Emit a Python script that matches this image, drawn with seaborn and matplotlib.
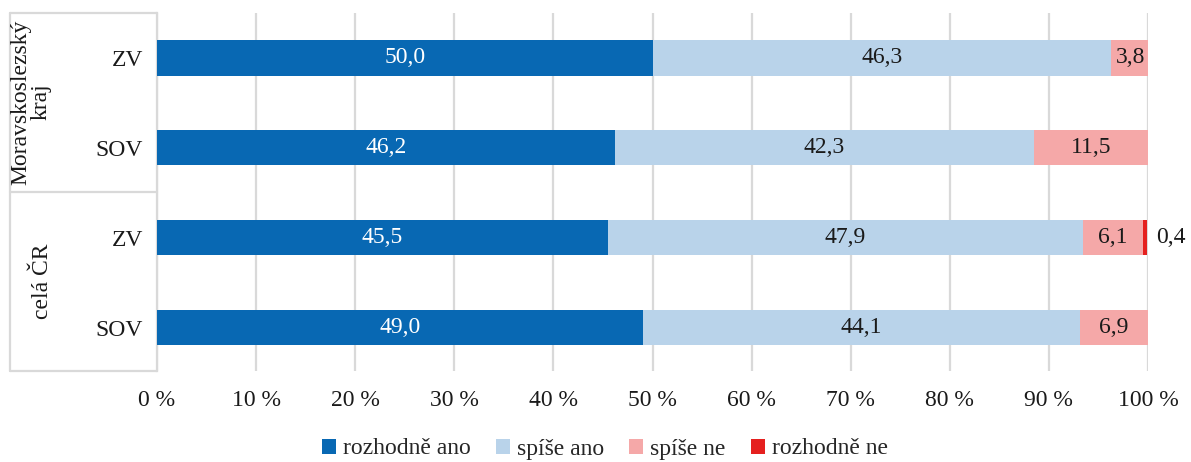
import matplotlib
matplotlib.use("Agg")
import matplotlib.pyplot as plt
import seaborn as sns
import pandas as pd
import numpy as np
from matplotlib.patches import Patch

# Survey answers (%) per group
rows = ["MSK-ZV", "MSK-SOV", "CR-ZV", "CR-SOV"]
row_labels = ["ZV", "SOV", "ZV", "SOV"]
series = ["rozhodně ano", "spíše ano", "spíše ne", "rozhodně ne"]
rozhodne_ano = [50.0, 46.2, 45.5, 49.0]
spise_ano = [46.3, 42.3, 47.9, 44.1]
spise_ne = [3.8, 11.5, 6.1, 6.9]
rozhodne_ne = [0.0, 0.0, 0.4, 0.0]
groups = ["Moravskoslezský\nkraj", "celá ČR"]
ticks = [0, 10, 20, 30, 40, 50, 60, 70, 80, 90, 100]

colors = ["#0868B3", "#B9D3EA", "#F5A8A8", "#E5201F"]
text_colors = ["white", "#1a1a1a", "#1a1a1a", "#1a1a1a"]

sns.set_theme(style="white")
plt.rcParams["font.family"] = ["Liberation Serif", "DejaVu Serif"]

values = np.array([rozhodne_ano, spise_ano, spise_ne, rozhodne_ne])
cum = np.cumsum(values, axis=0)

fig = plt.figure(figsize=(11.91, 4.62), dpi=100)
ax = fig.add_axes([157 / 1191, 1 - 371 / 462, (1148 - 157) / 1191, (371 - 13) / 462])

# Stacked bars: draw cumulative totals from the outermost layer inward
for i in reversed(range(len(series))):
    df = pd.DataFrame({"row": rows, "value": cum[i]})
    sns.barplot(data=df, x="value", y="row", order=rows, orient="h",
                color=colors[i], width=0.39, saturation=1, ax=ax,
                linewidth=0, zorder=3)

# Segment value labels
fs = 17
for j in range(len(rows)):
    start = 0.0
    for i in range(len(series)):
        v = values[i, j]
        if v > 0:
            if v >= 1:
                ax.text(start + v / 2, j, f"{v:.1f}".replace(".", ","),
                        ha="center", va="center", fontsize=fs,
                        color=text_colors[i], zorder=5)
            else:
                ax.text(start + v + 0.9, j, f"{v:.1f}".replace(".", ","),
                        ha="left", va="center", fontsize=fs,
                        color="#1a1a1a", zorder=5)
        start += v

ax.set_xlim(0, 100)
ax.set_ylim(3.48, -0.5)
ax.set_xticks(ticks)
ax.set_xticklabels([f"{t} %" for t in ticks], fontsize=fs, color="#1a1a1a")
ax.set_yticks(range(len(rows)))
ax.set_yticklabels(row_labels, fontsize=fs, color="#1a1a1a")
ax.tick_params(axis="x", length=0, pad=14)
ax.tick_params(axis="y", length=0, pad=10)
ax.set_xlabel("")
ax.set_ylabel("")
ax.xaxis.grid(True, color="#D9D9D9", linewidth=1.6, zorder=0)
ax.set_axisbelow(True)
for s in ["top", "right", "bottom"]:
    ax.spines[s].set_visible(False)
ax.spines["left"].set_color("#D9D9D9")
ax.spines["left"].set_linewidth(1.6)

# Group brackets on the left
line_kw = dict(color="#D9D9D9", linewidth=1.6, transform=fig.transFigure, clip_on=False)
x0, x1 = 10 / 1191, 157 / 1191
for ypx in [13, 192, 371]:
    fig.add_artist(plt.Line2D([x0, x1], [1 - ypx / 462] * 2, **line_kw))
fig.add_artist(plt.Line2D([x0, x0], [1 - 13 / 462, 1 - 371 / 462], **line_kw))

fig.text(31 / 1191, 1 - 102 / 462, groups[0], rotation=90, ha="center",
         va="center", fontsize=fs, color="#1a1a1a", linespacing=1.0,
         multialignment="center")
fig.text(42 / 1191, 1 - 281 / 462, groups[1], rotation=90, ha="center",
         va="center", fontsize=fs, color="#1a1a1a")

# Legend
handles = [Patch(facecolor=c, edgecolor="none") for c in colors]
fig.legend(handles, series, loc="center", bbox_to_anchor=(605 / 1191, 1 - 449 / 462),
           ncol=4, frameon=False, fontsize=fs, handlelength=0.6, handleheight=0.6,
           handletextpad=0.3, columnspacing=1.05)

fig.savefig("out.png", dpi=100)
